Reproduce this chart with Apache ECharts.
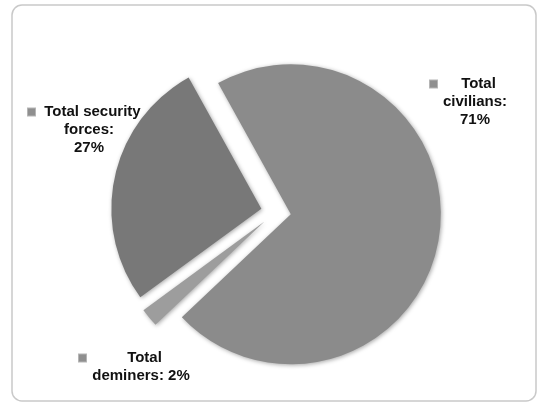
<!DOCTYPE html>
<html>
<head>
<meta charset="utf-8">
<script src="https://cdn.jsdelivr.net/npm/echarts@6/dist/echarts.min.js"></script>
<style>
  html, body { margin: 0; padding: 0; background: #ffffff; }
  #chart { width: 539px; height: 403px; }
</style>
</head>
<body>
<div id="chart"></div>
<script>
// ---- data ----
const categories = ['Total civilians', 'Total deminers', 'Total security forces'];
const values = [71, 2, 27];

// ---- styling (not data) ----
const sliceColors = ['#8b8b8b', '#9d9d9d', '#787878'];
// how each label's words are split into lines
const labelWrap = [
  [['Total'], ['civilians:'], ['%v']],
  [['Total'], ['deminers:', '%v']],
  [['Total', 'security'], ['forces:'], ['%v']]
];
const labelBoxes = [
  { x: 475, y: 75, width: 90 },
  { x: 141, y: 349, width: 124 },
  { x: 89, y: 103, width: 122 }
];

function labelText(i) {
  const lines = labelWrap[i].map(function (words) {
    return words.map(function (w) { return w === '%v' ? values[i] + '%' : w; }).join(' ');
  });
  return lines.map(function (l, k) {
    return (k === 0 ? '{m|}' : '') + '{t|' + l + '}';
  }).join('\n');
}

const FONT = 'Liberation Sans, Arial, sans-serif';

const chart = echarts.init(document.getElementById('chart'), null, { renderer: 'canvas' });

const data = categories.map((name, i) => ({
  name: name,
  value: values[i],
  selected: true,
  itemStyle: { color: sliceColors[i] }
}));

const labelGraphics = categories.map(function (name, i) {
  const b = labelBoxes[i];
  return {
    type: 'text',
    x: b.x,
    y: b.y,
    silent: true,
    style: {
      text: labelText(i),
      width: b.width,
      align: 'center',
      verticalAlign: 'top',
      fontFamily: FONT,
      fontWeight: 'bold',
      fontSize: 15,
      lineHeight: 18,
      fill: '#111111',
      rich: {
        m: {
          align: 'left',
          width: 7,
          height: 7,
          backgroundColor: '#8f8f8f',
          borderColor: '#b5b5b5',
          borderWidth: 1
        },
        t: {
          align: 'center',
          fontFamily: FONT,
          fontWeight: 'bold',
          fontSize: 15,
          lineHeight: 18,
          fill: '#111111'
        }
      }
    }
  };
});

const option = {
  animation: false,
  backgroundColor: '#ffffff',
  graphic: [{
    type: 'rect',
    shape: { x: 12, y: 5, width: 524, height: 396, r: 10 },
    style: { fill: 'none', stroke: '#c9c9c9', lineWidth: 1.5 },
    silent: true
  }].concat(labelGraphics),
  series: [{
    type: 'pie',
    center: [276, 212],
    radius: [0, 150],
    startAngle: 119,
    clockwise: true,
    selectedMode: 'multiple',
    selectedOffset: 15,
    avoidLabelOverlap: false,
    emphasis: { disabled: true },
    itemStyle: {
      borderWidth: 0,
      shadowBlur: 4,
      shadowColor: 'rgba(0,0,0,0.35)',
      shadowOffsetX: 1,
      shadowOffsetY: 1
    },
    labelLine: { show: false },
    label: { show: false },
    data: data
  }]
};

chart.setOption(option);
</script>
</body>
</html>
